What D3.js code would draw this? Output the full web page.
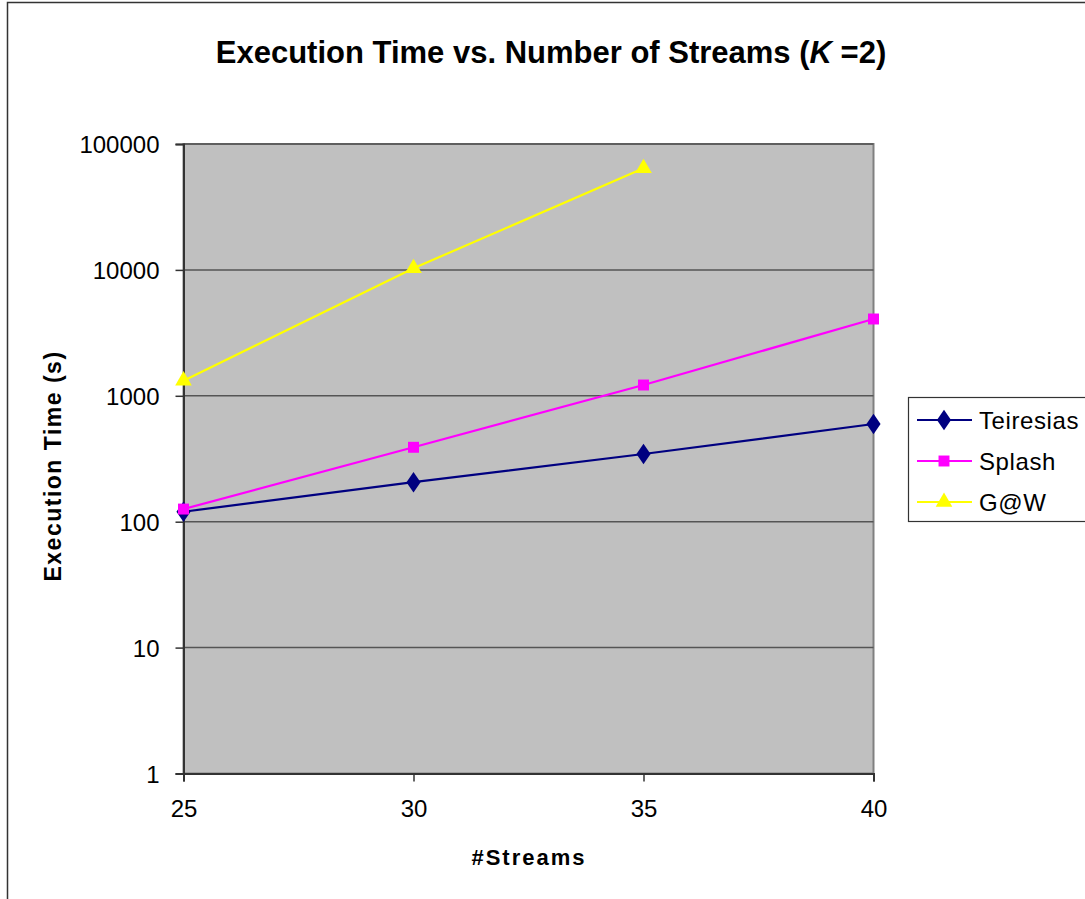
<!DOCTYPE html>
<html><head><meta charset="utf-8">
<script src="https://cdn.jsdelivr.net/npm/d3@7"></script>
<style>body{margin:0;background:#fff;} svg{display:block;font-family:"Liberation Sans",Arial,sans-serif;}</style>
</head><body>
<svg id="c" width="1085" height="899"></svg>
<script>
const streams = [25, 30, 35, 40];
const teiresias = [120, 206, 345, 597];
const splash = [126, 390, 1218, 4074];
const gaw = [1318, 10300, 64100];
const yTicks = [1, 10, 100, 1000, 10000, 100000];
const seriesNames = ["Teiresias", "Splash", "G@W"];

const svg = d3.select("#c");
// outer chart border
svg.append("rect").attr("x", 7.5).attr("y", 2.5).attr("width", 1100).attr("height", 920)
  .attr("fill", "none").attr("stroke", "#333").attr("stroke-width", 1.5);

const x = d3.scaleLinear().domain([25, 40]).range([183.5, 873.5]);
const y = d3.scaleLog().domain([1, 100000]).range([773.5, 144]);

svg.append("rect").attr("x", x(25)).attr("y", y(100000)).attr("width", x(40) - x(25)).attr("height", y(1) - y(100000))
  .attr("fill", "#c0c0c0").attr("stroke", "#808080").attr("stroke-width", 2);

// gridlines
svg.append("g").selectAll("line").data(yTicks.slice(1)).join("line")
  .attr("x1", x(25)).attr("x2", x(40)).attr("y1", d => y(d)).attr("y2", d => y(d))
  .attr("stroke", "#555").attr("stroke-width", 1.5);

// axes
const yAxis = d3.axisLeft(y).tickValues(yTicks).tickFormat(d3.format("d")).tickSize(8).tickPadding(16);
const gy = svg.append("g").attr("transform", `translate(${x(25)},0)`).call(yAxis);
const xAxis = d3.axisBottom(x).tickValues(streams).tickFormat(d3.format("d")).tickSize(8).tickPadding(18);
const gx = svg.append("g").attr("transform", `translate(0,${y(1)})`).call(xAxis);
[gx, gy].forEach(g => {
  g.select(".domain").attr("stroke", "#333").attr("stroke-width", 2);
  g.selectAll(".tick line").attr("stroke", "#333").attr("stroke-width", 1.5);
  g.selectAll("text").attr("fill", "#000").attr("font-size", 24).attr("font-family", "Liberation Sans, Arial, sans-serif");
});
gy.selectAll("text").attr("dy", "0.36em");

// titles
const t = svg.append("text").attr("x", 551).attr("y", 63).attr("text-anchor", "middle")
  .attr("font-size", 31).attr("font-weight", "bold");
t.append("tspan").text("Execution Time vs. Number of Streams (");
t.append("tspan").attr("font-style", "italic").text("K");
t.append("tspan").text(" =2)");

svg.append("text").attr("x", 529).attr("y", 865).attr("text-anchor", "middle")
  .attr("font-size", 22).attr("font-weight", "bold").attr("letter-spacing", 2).text("#Streams");
svg.append("text").attr("transform", "translate(61,466) rotate(-90)").attr("text-anchor", "middle")
  .attr("font-size", 23).attr("font-weight", "bold").attr("letter-spacing", 1.5).text("Execution Time (s)");

// series
const series = [
  {name: seriesNames[0], vals: teiresias, color: "#000080", sym: d3.symbolDiamond, size: 120},
  {name: seriesNames[1], vals: splash, color: "#ff00ff", sym: d3.symbolSquare, size: 120},
  {name: seriesNames[2], vals: gaw, color: "#ffff00", sym: d3.symbolTriangle, size: 120}
];
const line = d3.line().x(d => x(d[0])).y(d => y(d[1]));
series.forEach(s => {
  const pts = s.vals.map((v, i) => [streams[i], v]);
  svg.append("path").attr("d", line(pts)).attr("fill", "none").attr("stroke", s.color).attr("stroke-width", 2.2);
  svg.append("g").selectAll("path").data(pts).join("path")
    .attr("d", d3.symbol(s.sym, s.size))
    .attr("transform", d => `translate(${x(d[0])},${y(d[1])})${s.sym === d3.symbolDiamond ? " scale(1.2,1)" : ""}`)
    .attr("fill", s.color);
});

// legend
const lg = svg.append("g");
lg.append("rect").attr("x", 908.5).attr("y", 397.5).attr("width", 200).attr("height", 124)
  .attr("fill", "#fff").attr("stroke", "#333").attr("stroke-width", 1.2);
series.forEach((s, i) => {
  const cy = 420 + i * 41;
  lg.append("line").attr("x1", 917).attr("x2", 972).attr("y1", cy).attr("y2", cy).attr("stroke", s.color).attr("stroke-width", 2.2);
  lg.append("path").attr("d", d3.symbol(s.sym, s.size)).attr("fill", s.color)
    .attr("transform", `translate(944,${cy})${s.sym === d3.symbolDiamond ? " scale(1.2,1)" : ""}`);
  lg.append("text").attr("x", 979).attr("y", cy).attr("dy", "0.36em").attr("font-size", 24).attr("letter-spacing", 0.6).text(s.name);
});
</script>
</body></html>
